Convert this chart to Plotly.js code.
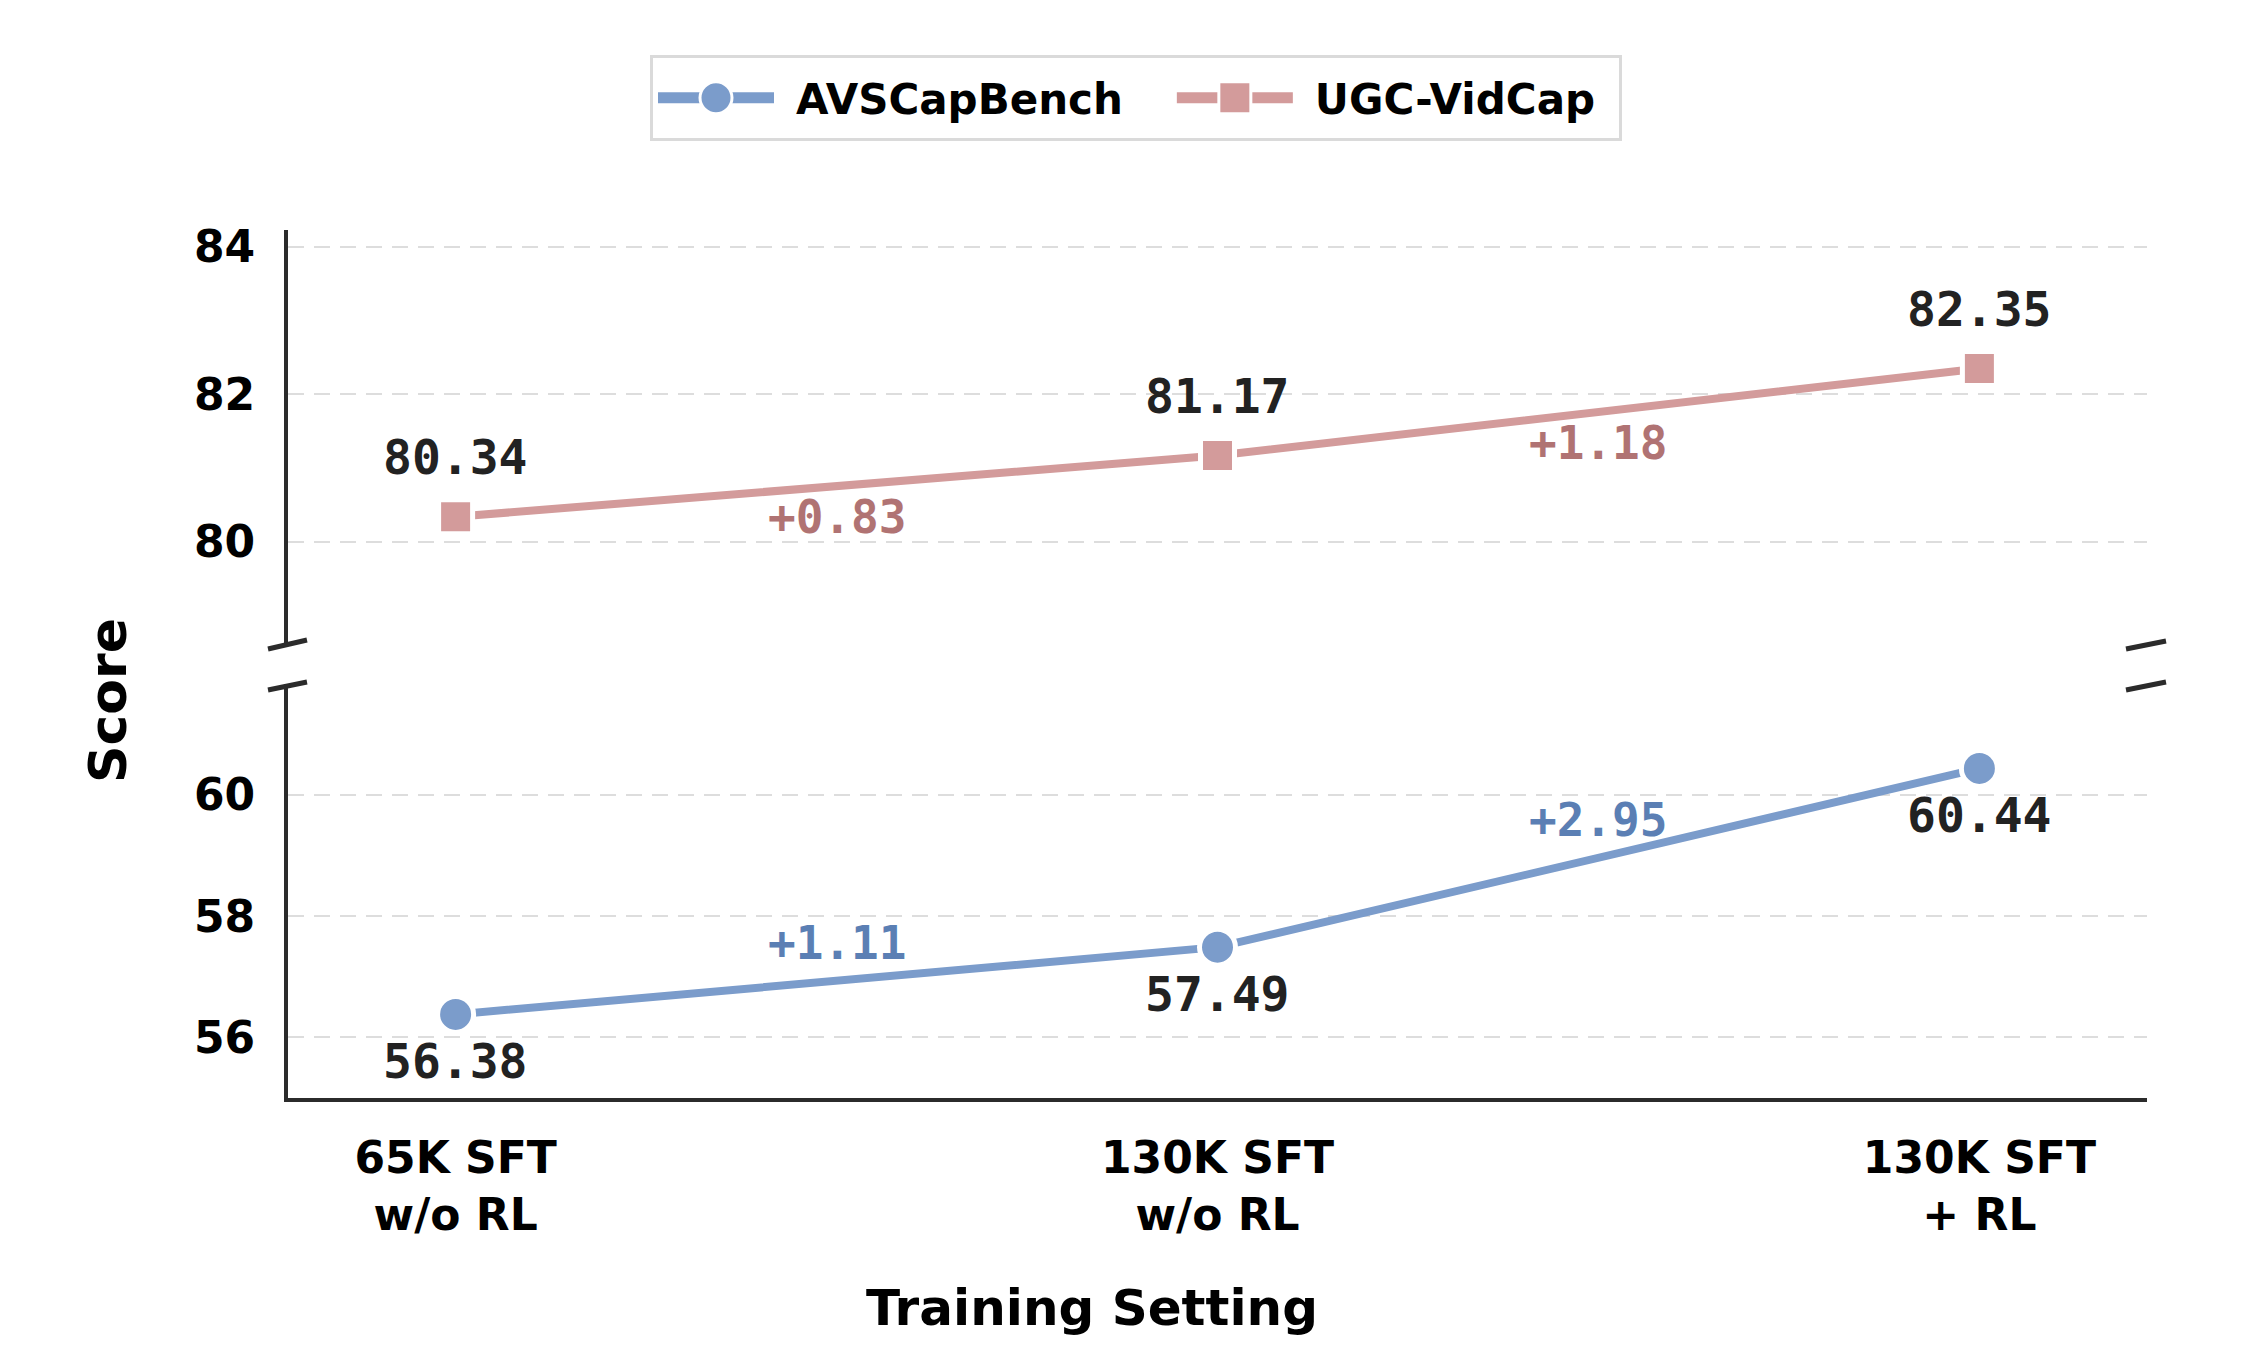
<!DOCTYPE html>
<html>
<head>
<meta charset="utf-8">
<script src="https://cdn.plot.ly/plotly-3.0.1.min.js"></script>
<style>
  html, body { margin: 0; padding: 0; background: #ffffff; }
  #chart { width: 2266px; height: 1370px; }
</style>
</head>
<body>
<div id="chart"></div>
<script>
// Training settings on the x axis
const settings = ["65K SFT<br>w/o RL", "130K SFT<br>w/o RL", "130K SFT<br>+ RL"];
const settingIndex = [0, 1, 2];

// Scores per benchmark
const avsCapBench = [56.38, 57.49, 60.44];
const ugcVidCap = [80.34, 81.17, 82.35];

const seriesNames = ["AVSCapBench", "UGC-VidCap"];

// Colours
const blue = "#7b9ccb";
const blueDark = "#5b7fb4";
const rose = "#d39b9b";
const roseDark = "#b07373";
const ink = "#222222";

const sansFont = "DejaVu Sans, Noto Sans, sans-serif";
const monoFont = "DejaVu Sans Mono, Liberation Mono, monospace";

// Plot area geometry (pixels) used to express paper coordinates
const W = 2266, H = 1370;
const L = 288, R = 2147, T = 230, B = 1098;
const pw = R - L, ph = B - T;
const px = v => (v - L) / pw;
const py = v => (B - v) / ph;

const topDomain = [py(645), 1];
const lowDomain = [0, py(686)];

const traces = [
  {
    x: settingIndex, y: avsCapBench, name: seriesNames[0],
    type: "scatter", mode: "lines+markers",
    xaxis: "x", yaxis: "y",
    line: { color: blue, width: 8 },
    marker: { symbol: "circle", size: 36, color: blue, line: { color: "#ffffff", width: 5 } },
    hoverinfo: "skip"
  },
  {
    x: settingIndex, y: ugcVidCap, name: seriesNames[1],
    type: "scatter", mode: "lines+markers",
    xaxis: "x", yaxis: "y2",
    line: { color: rose, width: 8 },
    marker: { symbol: "square", size: 34, color: rose, line: { color: "#ffffff", width: 5 } },
    hoverinfo: "skip"
  }
];

const annotations = [];

// Value labels: above the upper series, below the lower one
ugcVidCap.forEach((v, i) => annotations.push({
  x: settingIndex[i], y: v, xref: "x", yref: "y2",
  text: v.toFixed(2), showarrow: false, yshift: 60,
  font: { family: monoFont, size: 48, color: ink, weight: "bold" }
}));
avsCapBench.forEach((v, i) => annotations.push({
  x: settingIndex[i], y: v, xref: "x", yref: "y",
  text: v.toFixed(2), showarrow: false, yshift: -47,
  font: { family: monoFont, size: 48, color: ink, weight: "bold" }
}));

// Gains between consecutive settings, placed at segment midpoints
for (let i = 0; i < settingIndex.length - 1; i++) {
  const gu = ugcVidCap[i + 1] - ugcVidCap[i];
  annotations.push({
    x: (settingIndex[i] + settingIndex[i + 1]) / 2,
    y: (ugcVidCap[i] + ugcVidCap[i + 1]) / 2,
    xref: "x", yref: "y2", showarrow: false, yshift: -31,
    text: "+" + gu.toFixed(2),
    font: { family: monoFont, size: 46, color: roseDark, weight: "bold" }
  });
  const ga = avsCapBench[i + 1] - avsCapBench[i];
  annotations.push({
    x: (settingIndex[i] + settingIndex[i + 1]) / 2,
    y: (avsCapBench[i] + avsCapBench[i + 1]) / 2,
    xref: "x", yref: "y", showarrow: false, yshift: 38,
    text: "+" + ga.toFixed(2),
    font: { family: monoFont, size: 46, color: blueDark, weight: "bold" }
  });
}

// Axis titles
annotations.push({
  xref: "paper", yref: "paper", x: px(108), y: py(701),
  text: "Score", textangle: -90, showarrow: false,
  xanchor: "center", yanchor: "middle",
  font: { family: sansFont, size: 52, color: "#000000", weight: "bold" }
});
annotations.push({
  xref: "paper", yref: "paper", x: px(1092), y: py(1308),
  text: "Training Setting", showarrow: false,
  xanchor: "center", yanchor: "middle",
  font: { family: sansFont, size: 50, color: "#000000", weight: "bold" }
});

// Broken-axis marks on both sides of the gap
const breakLine = (x0, y0, x1, y1) => ({
  type: "line", xref: "paper", yref: "paper",
  x0: px(x0), y0: py(y0), x1: px(x1), y1: py(y1),
  line: { color: "#2b2b2b", width: 5 }, layer: "above"
});
const shapes = [
  breakLine(268, 649, 307, 640),
  breakLine(268, 690, 307, 682),
  breakLine(2126, 649, 2166, 641),
  breakLine(2126, 690, 2166, 682)
];

const yCommon = {
  anchor: "x", dtick: 2,
  showgrid: true, gridcolor: "#dddddd", gridwidth: 2, griddash: "16px,10px",
  zeroline: false,
  showline: true, linecolor: "#2b2b2b", linewidth: 4,
  ticks: "outside", ticklen: 20, tickcolor: "rgba(0,0,0,0)",
  tickfont: { family: sansFont, size: 44, color: "#000000", weight: "bold" }
};

const layout = {
  width: W, height: H,
  margin: { l: L, r: W - R, t: T, b: H - B, autoexpand: false },
  paper_bgcolor: "#ffffff", plot_bgcolor: "#ffffff",
  showlegend: true,
  legend: {
    orientation: "h", x: px(650), y: py(61), xanchor: "left", yanchor: "top",
    bordercolor: "#dadada", borderwidth: 3, bgcolor: "#ffffff",
    font: { family: sansFont, size: 42, color: "#000000", weight: "bold" },
    itemwidth: 116, tracegroupgap: 0
  },
  xaxis: {
    anchor: "y", domain: [0, 1], range: [-0.22, 2.22],
    tickvals: settingIndex, ticktext: settings,
    showgrid: false, zeroline: false,
    showline: true, linecolor: "#2b2b2b", linewidth: 4,
    ticks: "outside", ticklen: 18, tickcolor: "rgba(0,0,0,0)",
    tickfont: { family: sansFont, size: 44, color: "#000000", weight: "bold" }
  },
  yaxis: Object.assign({}, yCommon, { domain: lowDomain, range: [55.0, 61.8], tickvals: [56, 58, 60] }),
  yaxis2: Object.assign({}, yCommon, { domain: topDomain, range: [78.6, 84.23], tickvals: [80, 82, 84] }),
  annotations: annotations,
  shapes: shapes
};

const gd = document.getElementById("chart");

// Enlarge legend glyphs, add room between glyph and label, spread the entries
function restyleLegend() {
  const legend = gd.querySelector(".legend");
  if (!legend) return;
  const items = legend.querySelectorAll(".traces");
  const textPad = 17, dx = 61, extraW = 96, dh = 12;
  items.forEach(g => {
    g.querySelectorAll(".legendlines path").forEach(p => { p.style.strokeWidth = "11px"; });
    g.querySelectorAll(".legendpoints path").forEach(p => {
      const t = p.getAttribute("transform") || "";
      p.setAttribute("transform", t + " scale(2)");
      p.style.strokeWidth = "1.5px";
    });
    const txt = g.querySelector("text.legendtext");
    if (txt) {
      const x = parseFloat(txt.getAttribute("x") || 0) + textPad;
      txt.setAttribute("x", x);
      txt.querySelectorAll("tspan[x]").forEach(s => s.setAttribute("x", x));
    }
  });
  const scroll = legend.querySelector(".scrollbox");
  if (scroll) scroll.removeAttribute("clip-path");
  if (items.length > 1) {
    const t = items[1].getAttribute("transform") || "";
    const m = /translate\(\s*([-\d.e]+)[\s,]+([-\d.e]+)\s*\)/.exec(t);
    if (m) items[1].setAttribute("transform", "translate(" + (parseFloat(m[1]) + dx) + "," + m[2] + ")");
  }
  const bg = legend.querySelector("rect.bg");
  if (bg) {
    bg.setAttribute("width", parseFloat(bg.getAttribute("width")) + extraW);
    bg.setAttribute("y", parseFloat(bg.getAttribute("y") || 0) - dh / 2);
    bg.setAttribute("height", parseFloat(bg.getAttribute("height")) + dh);
  }
}

Plotly.newPlot(gd, traces, layout, { displayModeBar: false, staticPlot: true }).then(restyleLegend);
</script>
</body>
</html>
